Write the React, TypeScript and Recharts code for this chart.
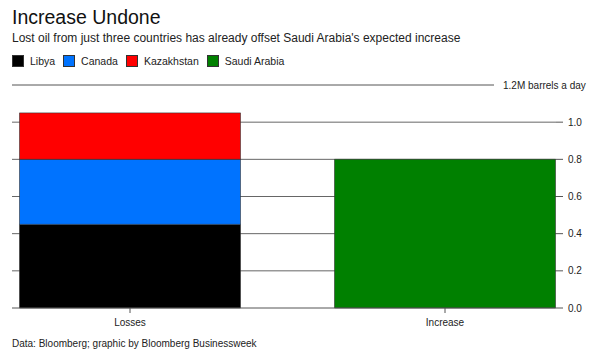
import React from 'react';
import { BarChart, Bar, XAxis, YAxis, CartesianGrid } from 'recharts';

const categories = ['Losses', 'Increase'];
const libya = [0.45, 0];
const canada = [0.35, 0];
const kazakhstan = [0.25, 0];
const saudiArabia = [0, 0.8];
const yTicks = [0, 0.2, 0.4, 0.6, 0.8, 1.0, 1.2];
const gridValues = [0.2, 0.4, 0.6, 0.8, 1.0];
const topLabel = '1.2M barrels a day';

const series = [
  { key: 'Libya', values: libya, color: '#000000' },
  { key: 'Canada', values: canada, color: '#0073ff' },
  { key: 'Kazakhstan', values: kazakhstan, color: '#ff0000' },
  { key: 'Saudi Arabia', values: saudiArabia, color: '#008000' },
];

const data = categories.map((c, i) => {
  const row: Record<string, any> = { name: c };
  series.forEach((s) => {
    row[s.key] = s.values[i] === 0 ? null : s.values[i];
  });
  return row;
});

const FONT = '"Liberation Sans", Arial, Helvetica, sans-serif';
const MARGIN = { top: 85, right: 0, bottom: 18, left: 12 };
const TICK_SIZE = 7;
const TICK_MARGIN = 5;

const YTick = (props: any) => {
  const { x, y, payload } = props;
  const axisX = x - TICK_SIZE - TICK_MARGIN;
  if (payload.value === 1.2) {
    return (
      <g>
        <line x1={MARGIN.left} x2={axisX - 62} y1={y} y2={y} stroke="#555" strokeWidth={1} />
        <text x={axisX - 53} y={y} dy="0.35em" fontSize={10} fill="#222" fontFamily={FONT}>
          {topLabel}
        </text>
      </g>
    );
  }
  return (
    <g>
      <line x1={axisX} x2={axisX + TICK_SIZE} y1={y} y2={y} stroke="#555" strokeWidth={1} />
      <text x={x} y={y} dy="0.35em" fontSize={10} fill="#222" fontFamily={FONT}>
        {payload.value.toFixed(1)}
      </text>
    </g>
  );
};

export default function App() {
  return (
    <div style={{ position: 'absolute', left: 0, top: 0, width: 600, height: 356, background: '#fff', fontFamily: FONT }}>
      <div style={{ position: 'absolute', left: 12, top: 6, fontSize: 19.5, color: '#111', whiteSpace: 'nowrap' }}>
        Increase Undone
      </div>
      <div style={{ position: 'absolute', left: 12, top: 31, fontSize: 12, color: '#222', whiteSpace: 'nowrap' }}>
        Lost oil from just three countries has already offset Saudi Arabia's expected increase
      </div>
      <div style={{ position: 'absolute', left: 12, top: 55, display: 'flex', alignItems: 'center', fontSize: 10.5, color: '#222', whiteSpace: 'nowrap' }}>
        {series.map((s) => (
          <div key={s.key} style={{ display: 'flex', alignItems: 'center', marginRight: 8 }}>
            <div style={{ width: 12, height: 12, background: s.color, border: '1px solid #333', boxSizing: 'border-box', marginRight: 6 }} />
            <span>{s.key}</span>
          </div>
        ))}
      </div>
      <div style={{ position: 'absolute', left: 12, top: 338, fontSize: 10, color: '#222', whiteSpace: 'nowrap' }}>
        Data: Bloomberg; graphic by Bloomberg Businessweek
      </div>
      <div style={{ position: 'absolute', left: 0, top: 0 }}>
        <BarChart width={600} height={356} data={data} margin={MARGIN} barSize={221}>
          <CartesianGrid vertical={false} horizontalValues={gridValues} stroke="#666" strokeWidth={1} />
          <XAxis
            dataKey="name"
            height={30}
            padding={{ left: -39.5, right: -46.5 }}
            axisLine={{ stroke: '#555' }}
            tickLine={{ stroke: '#555' }}
            tickSize={5}
            tickMargin={6}
            tick={{ fontSize: 10, fill: '#222', fontFamily: FONT }}
          />
          <YAxis
            orientation="right"
            domain={[0, 1.2]}
            ticks={yTicks}
            interval={0}
            width={44}
            axisLine={false}
            tickLine={false}
            tickSize={TICK_SIZE}
            tickMargin={TICK_MARGIN}
            tick={<YTick />}
          />
          {series.map((s) => (
            <Bar
              key={s.key}
              dataKey={s.key}
              stackId="a"
              fill={s.color}
              stroke="#333"
              strokeWidth={0.6}
              isAnimationActive={false}
            />
          ))}
        </BarChart>
      </div>
    </div>
  );
}
